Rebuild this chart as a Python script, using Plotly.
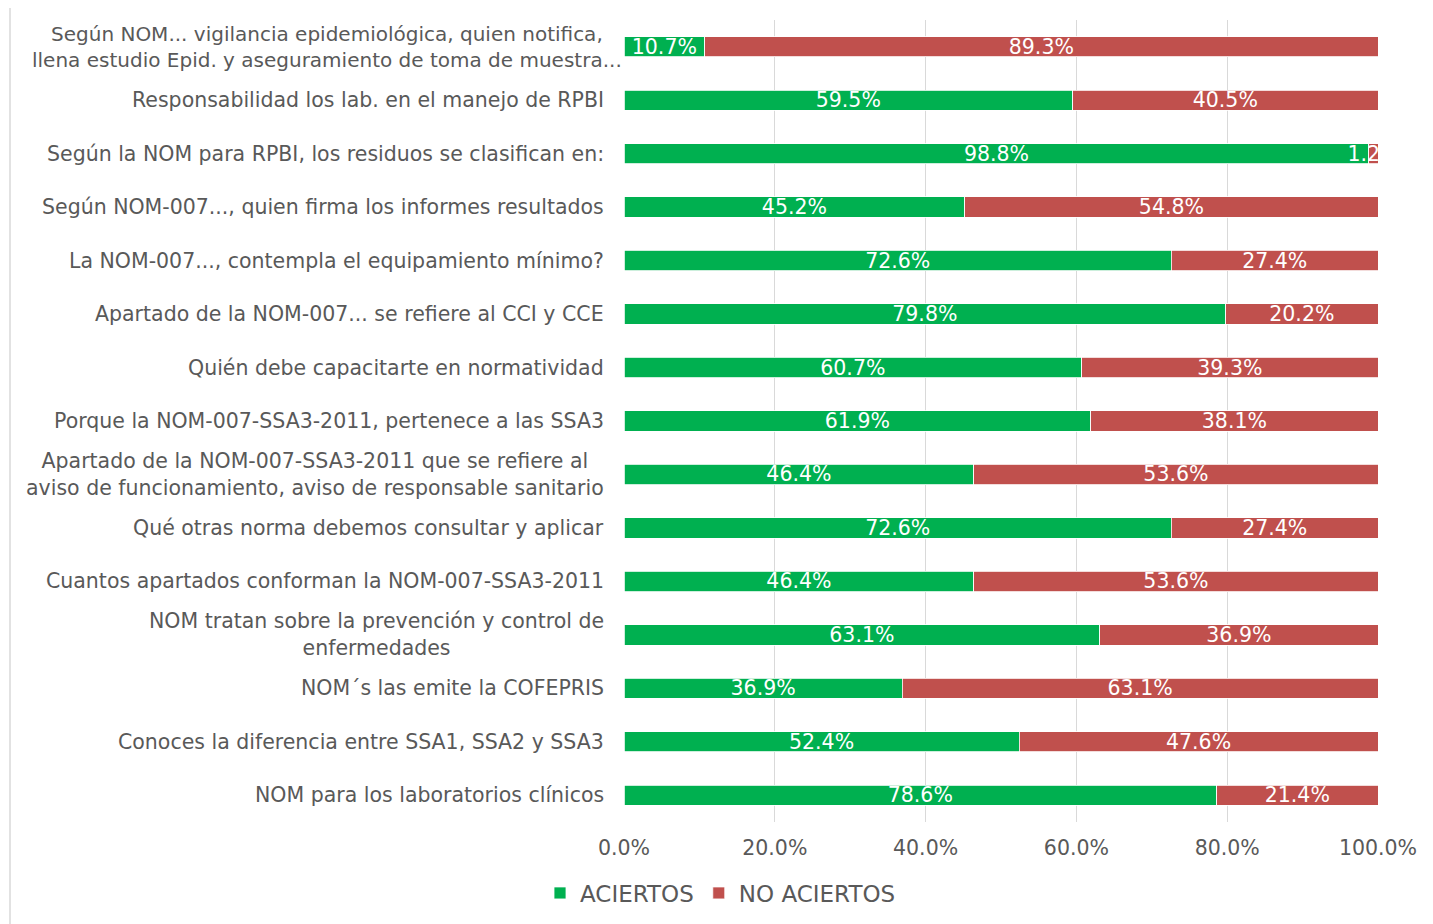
import plotly.graph_objects as go

categories = [
    "Según NOM... vigilancia epidemiológica, quien notifica,<br>llena estudio Epid. y aseguramiento de toma de muestra...",
    "Responsabilidad los lab. en el manejo de RPBI",
    "Según la NOM para RPBI, los residuos se clasifican en:",
    "Según NOM-007..., quien firma los informes resultados",
    "La NOM-007..., contempla el equipamiento mínimo?",
    "Apartado de la NOM-007... se refiere al CCI y CCE",
    "Quién debe capacitarte en normatividad",
    "Porque la NOM-007-SSA3-2011, pertenece a las SSA3",
    "Apartado de la NOM-007-SSA3-2011 que se refiere al<br>aviso de funcionamiento, aviso de responsable sanitario",
    "Qué otras norma debemos consultar y aplicar",
    "Cuantos apartados conforman la NOM-007-SSA3-2011",
    "NOM tratan sobre la prevención y control de<br>enfermedades",
    "NOM´s las emite la COFEPRIS",
    "Conoces la diferencia entre SSA1, SSA2 y SSA3",
    "NOM para los laboratorios clínicos",
]
aciertos = [10.7, 59.5, 98.8, 45.2, 72.6, 79.8, 60.7, 61.9, 46.4, 72.6, 46.4, 63.1, 36.9, 52.4, 78.6]
no_aciertos = [89.3, 40.5, 1.2, 54.8, 27.4, 20.2, 39.3, 38.1, 53.6, 27.4, 53.6, 36.9, 63.1, 47.6, 21.4]
x_ticks = [0, 20, 40, 60, 80, 100]
x_tick_labels = ["0.0%", "20.0%", "40.0%", "60.0%", "80.0%", "100.0%"]

GREEN = "#00B050"
RED = "#C0504D"
FONT = "DejaVu Sans, Liberation Sans, Arial, sans-serif"
FS = 20.5

ids = list(range(len(categories)))

fig = go.Figure()
fig.add_trace(go.Bar(
    y=ids, x=aciertos, orientation="h", name="ACIERTOS",
    marker=dict(color=GREEN, line=dict(color="white", width=0.8)),
    text=[f"{v:.1f}%" for v in aciertos], textposition="inside",
    insidetextanchor="middle", constraintext="none", textangle=0,
    textfont=dict(color="white", size=FS, family=FONT), width=0.38,
))
fig.add_trace(go.Bar(
    y=ids, x=no_aciertos, orientation="h", name="NO ACIERTOS",
    marker=dict(color=RED, line=dict(color="white", width=0.8)),
    text=[f"{v:.1f}%" for v in no_aciertos], textposition="inside",
    insidetextanchor="middle", constraintext="none", textangle=0,
    textfont=dict(color="white", size=FS, family=FONT), width=0.38,
    cliponaxis=True,
))

for i, c in enumerate(categories):
    first = i == 0
    fig.add_annotation(
        x=0, xref="paper", y=i, yref="y", text=c, showarrow=False,
        xanchor="right", yanchor="middle", align="center",
        xshift=0 if first else -18,
        font=dict(size=20 if first else FS, color="#595959", family=FONT),
    )

fig.add_shape(type="line", xref="paper", yref="paper",
              x0=-614 / 754, x1=-614 / 754, y0=-102 / 802, y1=1 + 12 / 802,
              line=dict(color="#d9d9d9", width=1.5))

fig.update_layout(
    width=1425, height=916,
    margin=dict(l=616, r=55, t=12, b=102),
    barmode="stack",
    paper_bgcolor="white", plot_bgcolor="white",
    font=dict(family=FONT, size=FS, color="#595959"),
    showlegend=True,
    legend=dict(orientation="h", xref="container", yref="container",
                x=532 / 1425, y=1 - 885 / 916, xanchor="left", yanchor="middle",
                font=dict(size=23, color="#595959"), itemwidth=30,
                traceorder="normal"),
    bargap=0.62,
)
fig.update_xaxes(range=[0, 100], tickvals=x_ticks, ticktext=x_tick_labels,
                 showgrid=True, gridcolor="#d9d9d9", gridwidth=1,
                 zeroline=False, showline=False, ticks="",
                 ticklabelstandoff=11,
                 tickfont=dict(size=FS, color="#595959"), fixedrange=True)
fig.update_yaxes(tickvals=ids, showticklabels=False,
                 autorange=False, range=[len(ids) - 0.5, -0.5],
                 showgrid=False, zeroline=False, showline=False, ticks="")

fig.write_html("out.html")
